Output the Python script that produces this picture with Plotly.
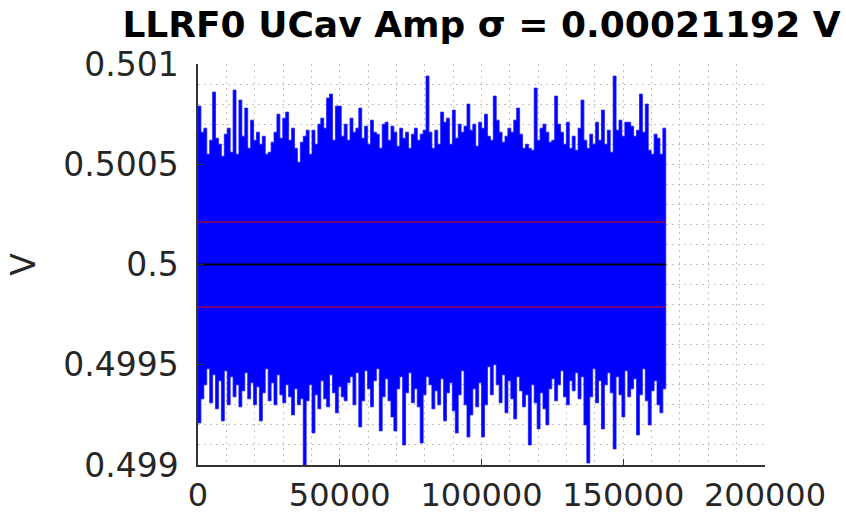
import plotly.graph_objects as go

# ---------------- data ----------------
title_text = "LLRF0 UCav Amp σ = 0.00021192 V"
y_label = "V"
n_samples = 165000          # length of the record (x axis = sample index)
mean_v = 0.5                # mean amplitude (black line)
sigma_v = 0.00021192        # standard deviation (red lines at mean ± sigma)

# per-column maxima of the signal (left to right)
top_v = [
    0.50079, 0.50066, 0.50068, 0.50055, 0.50062, 0.50086, 0.50063, 0.50060, 0.50054, 0.50065,
    0.50068, 0.50056, 0.50087, 0.50055, 0.50082, 0.50064, 0.50078, 0.50058, 0.50072, 0.50062,
    0.50066, 0.50060, 0.50064, 0.50055, 0.50056, 0.50061, 0.50066, 0.50075, 0.50063, 0.50073,
    0.50076, 0.50062, 0.50068, 0.50058, 0.50051, 0.50061, 0.50064, 0.50067, 0.50055, 0.50067,
    0.50060, 0.50070, 0.50073, 0.50068, 0.50083, 0.50085, 0.50062, 0.50079, 0.50079, 0.50064,
    0.50070, 0.50062, 0.50073, 0.50066, 0.50068, 0.50078, 0.50063, 0.50069, 0.50060, 0.50072,
    0.50066, 0.50065, 0.50058, 0.50070, 0.50071, 0.50062, 0.50069, 0.50066, 0.50059, 0.50068,
    0.50063, 0.50066, 0.50058, 0.50065, 0.50068, 0.50062, 0.50065, 0.50067, 0.50094, 0.50066,
    0.50058, 0.50067, 0.50060, 0.50076, 0.50071, 0.50073, 0.50060, 0.50077, 0.50063, 0.50070,
    0.50066, 0.50069, 0.50080, 0.50067, 0.50070, 0.50059, 0.50071, 0.50068, 0.50075, 0.50064,
    0.50062, 0.50084, 0.50072, 0.50066, 0.50061, 0.50064, 0.50068, 0.50066, 0.50072, 0.50078,
    0.50065, 0.50058, 0.50060, 0.50058, 0.50057, 0.50088, 0.50062, 0.50068, 0.50070, 0.50066,
    0.50061, 0.50062, 0.50084, 0.50070, 0.50066, 0.50060, 0.50071, 0.50058, 0.50064, 0.50057,
    0.50068, 0.50082, 0.50062, 0.50058, 0.50065, 0.50060, 0.50071, 0.50062, 0.50077, 0.50060,
    0.50067, 0.50056, 0.50094, 0.50067, 0.50072, 0.50064, 0.50071, 0.50071, 0.50069, 0.50064,
    0.50067, 0.50085, 0.50066, 0.50080, 0.50057, 0.50055, 0.50065, 0.50063, 0.50055, 0.50068,
]

# per-column minima of the signal (left to right)
bottom_v = [
    0.49921, 0.49933, 0.49940, 0.49948, 0.49931, 0.49945, 0.49928, 0.49942, 0.49922, 0.49947,
    0.49930, 0.49944, 0.49934, 0.49940, 0.49929, 0.49937, 0.49946, 0.49933, 0.49941, 0.49930,
    0.49939, 0.49922, 0.49936, 0.49948, 0.49932, 0.49941, 0.49930, 0.49945, 0.49935, 0.49931,
    0.49940, 0.49934, 0.49925, 0.49938, 0.49930, 0.49933, 0.49900, 0.49932, 0.49940, 0.49916,
    0.49935, 0.49928, 0.49942, 0.49933, 0.49929, 0.49945, 0.49936, 0.49926, 0.49939, 0.49934,
    0.49932, 0.49941, 0.49944, 0.49930, 0.49946, 0.49919, 0.49932, 0.49947, 0.49938, 0.49929,
    0.49942, 0.49948, 0.49917, 0.49934, 0.49943, 0.49932, 0.49924, 0.49917, 0.49938, 0.49944,
    0.49910, 0.49936, 0.49946, 0.49931, 0.49938, 0.49929, 0.49911, 0.49935, 0.49944, 0.49940,
    0.49928, 0.49937, 0.49930, 0.49943, 0.49922, 0.49936, 0.49941, 0.49927, 0.49916, 0.49935,
    0.49947, 0.49930, 0.49914, 0.49925, 0.49938, 0.49929, 0.49941, 0.49914, 0.49930, 0.49949,
    0.49935, 0.49950, 0.49940, 0.49931, 0.49945, 0.49926, 0.49942, 0.49933, 0.49923, 0.49944,
    0.49937, 0.49929, 0.49935, 0.49910, 0.49940, 0.49931, 0.49918, 0.49936, 0.49928, 0.49920,
    0.49938, 0.49943, 0.49932, 0.49940, 0.49947, 0.49934, 0.49930, 0.49942, 0.49937, 0.49946,
    0.49933, 0.49944, 0.49920, 0.49901, 0.49934, 0.49948, 0.49931, 0.49942, 0.49918, 0.49940,
    0.49946, 0.49936, 0.49908, 0.49944, 0.49935, 0.49924, 0.49947, 0.49934, 0.49938, 0.49943,
    0.49915, 0.49935, 0.49948, 0.49932, 0.49920, 0.49937, 0.49942, 0.49930, 0.49926, 0.49938,
]

x_ticks = [0, 50000, 100000, 150000, 200000]
x_tick_labels = ["0", "50000", "100000", "150000", "200000"]
y_ticks = [0.499, 0.4995, 0.5, 0.5005, 0.501]
y_tick_labels = ["0.499", "0.4995", "0.5", "0.5005", "0.501"]
x_range = [0, 200000]
y_range = [0.499, 0.501]
x_minor_step = 10000
y_minor_step = 0.0001

# ---------------- signal envelope: one closed polygon, stepping column by column ----------------
n_cols = len(top_v)
col_step = n_samples / n_cols
poly_x, poly_y = [], []
for i, t in enumerate(top_v):                      # upper edge, left -> right
    poly_x += [i * col_step, (i + 1) * col_step]
    poly_y += [t, t]
for i in range(n_cols - 1, -1, -1):                # lower edge, right -> left
    b = bottom_v[i]
    poly_x += [(i + 1) * col_step, i * col_step]
    poly_y += [b, b]
poly_x.append(poly_x[0])
poly_y.append(poly_y[0])

fig = go.Figure()
fig.add_trace(go.Scatter(
    x=poly_x, y=poly_y, mode="lines", fill="toself",
    fillcolor="#0000ff", line=dict(color="#1a1aff", width=0.8),
    hoverinfo="skip", showlegend=False,
))
for level in (mean_v + sigma_v, mean_v - sigma_v):
    fig.add_trace(go.Scatter(
        x=[0, n_samples], y=[level, level], mode="lines",
        line=dict(color="#e00000", width=1.2),
        showlegend=False,
    ))
fig.add_trace(go.Scatter(
    x=[0, n_samples], y=[mean_v, mean_v], mode="lines",
    line=dict(color="#000000", width=1.8),
    showlegend=False,
))

grid_col = "#c4c4c4"
grid_dash = "2px,4px"
axis_col = "#333333"

fig.update_layout(
    width=846, height=517,
    margin=dict(l=198, r=81, t=64, b=52, autoexpand=False),
    paper_bgcolor="white", plot_bgcolor="white",
    font=dict(family="DejaVu Sans", size=33, color="#262626"),
    title=dict(
        text=title_text,
        font=dict(family="DejaVu Sans", size=36, color="#000000", weight="bold"),
        x=0.5, xref="paper", xanchor="center",
        y=1 - 24 / 517, yref="container", yanchor="middle",
    ),
    showlegend=False,
)
fig.update_xaxes(
    automargin=False,
    range=x_range, tickmode="array", tickvals=x_ticks, ticktext=x_tick_labels,
    tickfont=dict(size=32),
    showline=True, linecolor=axis_col, linewidth=1.5,
    ticks="inside", ticklen=6, tickcolor=axis_col, tickwidth=1.2,
    showgrid=True, gridcolor=grid_col, griddash=grid_dash, gridwidth=1,
    minor=dict(tickmode="linear", tick0=0, dtick=x_minor_step, showgrid=True,
               gridcolor=grid_col, griddash=grid_dash, gridwidth=1, ticks=""),
    zeroline=False, ticklabelstandoff=1,
)
fig.update_yaxes(
    automargin=False,
    range=y_range, tickmode="array", tickvals=y_ticks, ticktext=y_tick_labels,
    showline=True, linecolor=axis_col, linewidth=1.5,
    ticks="inside", ticklen=6, tickcolor=axis_col, tickwidth=1.2,
    showgrid=True, gridcolor=grid_col, griddash=grid_dash, gridwidth=1,
    minor=dict(tickmode="linear", tick0=y_range[0], dtick=y_minor_step, showgrid=True,
               gridcolor=grid_col, griddash=grid_dash, gridwidth=1, ticks=""),
    zeroline=False, ticklabelstandoff=11,
    title=dict(text=y_label, font=dict(size=33, color="#262626"), standoff=18),
)

fig.write_html("out.html")
